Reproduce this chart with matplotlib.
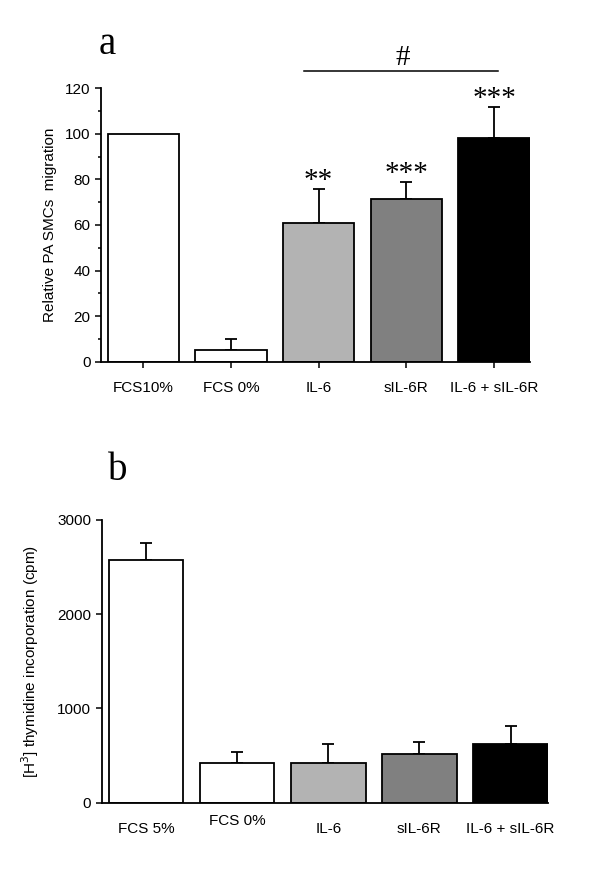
import matplotlib
matplotlib.use("Agg")
import matplotlib.pyplot as plt
import matplotlib.transforms as mtransforms
import numpy as np

plt.rcParams['font.family'] = ['Liberation Sans', 'DejaVu Sans']

# Panel a data
cats_a = ["FCS10%", "FCS 0%", "IL-6", "sIL-6R", "IL-6 + sIL-6R"]
vals_a = [100, 5, 61, 71.5, 98]
errs_a = [0, 5, 15, 7.5, 14]
stars_a = ["", "", "**", "***", "***"]

# Panel b data
cats_b = ["FCS 5%", "FCS 0%", "IL-6", "sIL-6R", "IL-6 + sIL-6R"]
vals_b = [2570, 424, 424, 516, 619]
errs_b = [180, 117, 195, 124, 194]

colors = ["white", "white", "#b3b3b3", "#808080", "black"]

fig = plt.figure(figsize=(6, 8.69), dpi=100)

def style(ax):
    for s in ["top", "right"]:
        ax.spines[s].set_visible(False)
    ax.spines["left"].set_linewidth(1.3)
    ax.spines["bottom"].set_linewidth(1.3)
    ax.tick_params(axis="both", direction="out", labelsize=11, width=1.1, length=4)

# ---- Panel a ----
axa = fig.add_axes([0.168, 0.5838, 0.715, 0.3146])
xa = np.arange(len(cats_a))
w = 0.816
axa.bar(xa, vals_a, width=w, color=colors, edgecolor="black", linewidth=1.3, zorder=2)
for x, v, e in zip(xa, vals_a, errs_a):
    if e > 0:
        axa.errorbar(x, v, yerr=[[0], [e]], fmt="none", ecolor="black",
                     elinewidth=1.3, capsize=4, capthick=1.3, zorder=1)
for x, v, e, s in zip(xa, vals_a, errs_a, stars_a):
    if s:
        axa.text(x, v + e + 3.2, s, ha="center", va="center",
                 fontsize=21, family=["Liberation Serif"], clip_on=False)
axa.set_xlim(-0.485, 4.408)
axa.set_ylim(0, 120)
axa.set_yticks(np.arange(0, 121, 20))
axa.set_yticks(np.arange(0, 121, 10), minor=True)
axa.tick_params(axis="y", which="minor", length=2.5, width=1.1)
axa.set_xticks(xa)
axa.set_xticklabels(cats_a)
axa.tick_params(axis="x", length=3, pad=10)
axa.set_ylabel("Relative PA SMCs  migration", fontsize=11, labelpad=6)
style(axa)
axa.plot([1.83, 4.05], [127.5, 127.5], color="black", lw=1.1, clip_on=False)
axa.text(2.96, 133.5, "#", ha="center", va="center", fontsize=21,
         family=["Liberation Serif"], clip_on=False)
fig.text(0.178, 0.949, "a", fontsize=28, family=["Liberation Serif"],
         ha="center", va="center")

# ---- Panel b ----
axb = fig.add_axes([0.1695, 0.0763, 0.7435, 0.3257])
xb = np.arange(len(cats_b))
wb = 0.818
axb.bar(xb, vals_b, width=wb, color=colors, edgecolor="black", linewidth=1.3, zorder=2)
for x, v, e in zip(xb, vals_b, errs_b):
    axb.errorbar(x, v, yerr=[[0], [e]], fmt="none", ecolor="black",
                 elinewidth=1.3, capsize=4, capthick=1.3, zorder=1)
axb.set_xlim(-0.486, 4.409)
axb.set_ylim(0, 3000)
axb.set_yticks([0, 1000, 2000, 3000])
axb.set_xticks(xb)
axb.set_xticklabels(cats_b)
axb.tick_params(axis="x", length=0, pad=14)
axb.set_ylabel("[H$^3$] thymidine incorporation (cpm)", fontsize=11, labelpad=12)
style(axb)
axb.tick_params(axis="x", length=0)
# the "FCS 0%" label sits a little higher in the reference
lbl = axb.get_xticklabels()[1]
lbl.set_transform(lbl.get_transform() +
                  mtransforms.ScaledTranslation(0, 6 / 72, fig.dpi_scale_trans))
fig.text(0.197, 0.459, "b", fontsize=28, family=["Liberation Serif"],
         ha="center", va="center")

fig.savefig("out.png", dpi=100)
